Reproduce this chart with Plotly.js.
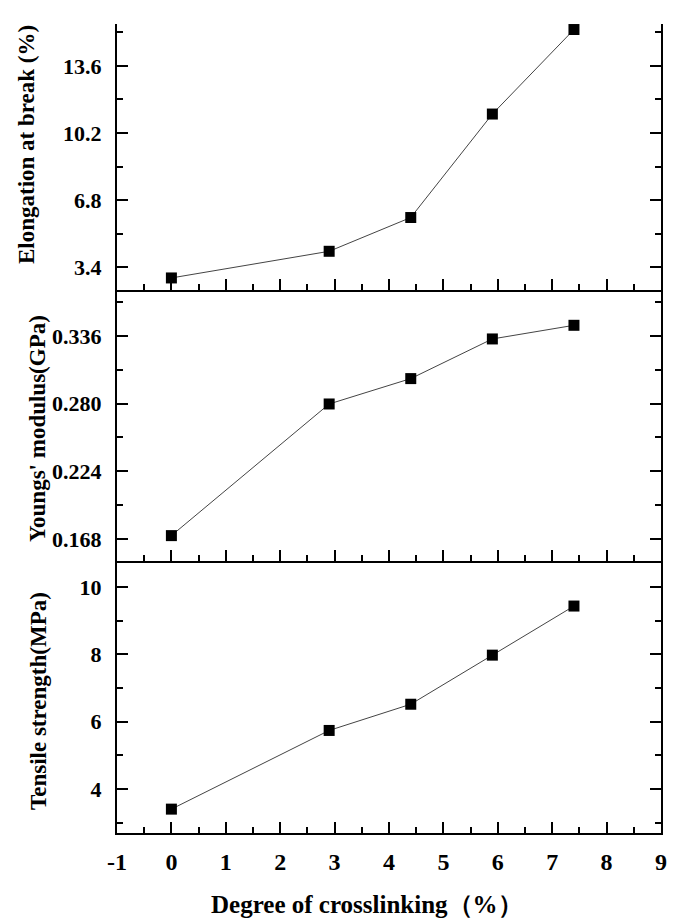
<!DOCTYPE html>
<html>
<head>
<meta charset="utf-8">
<script src="https://cdn.plot.ly/plotly-3.0.1.min.js"></script>
<style>html,body{margin:0;padding:0;background:#fff;}#chart{width:677px;height:924px;}</style>
</head>
<body>
<div id="chart"></div>
<script>
// Data
const crosslinking = [0, 2.9, 4.4, 5.9, 7.4];
const elongation = [2.86, 4.21, 5.92, 11.16, 15.44];
const youngsModulus = [0.1708, 0.2797, 0.3007, 0.3335, 0.3448];
const tensileStrength = [3.40, 5.74, 6.52, 7.98, 9.44];

const xTickVals = [-1, 0, 1, 2, 3, 4, 5, 6, 7, 8, 9];
const xTitle = 'Degree of crosslinking（%）';
const yTitles = ['Elongation at break (%)', "Youngs' modulus(GPa)", 'Tensile strength(MPa)'];

const FONT = 'Liberation Serif, Times New Roman, serif';
const W = 677, H = 924;
const M = {l: 117, r: 16, t: 24, b: 91};
const plotW = W - M.l - M.r, plotH = H - M.t - M.b;
const bottomPx = H - M.b;
const py = p => (bottomPx - p) / plotH;
const px = p => (p - M.l) / plotW;

function trace(y, xa, ya) {
  return {
    x: crosslinking, y: y, xaxis: xa, yaxis: ya,
    type: 'scatter', mode: 'lines+markers',
    line: {color: '#444', width: 1},
    marker: {symbol: 'square', size: 11, color: '#000', line: {color: '#000', width: 0}},
    cliponaxis: false, showlegend: false, hoverinfo: 'skip'
  };
}

const data = [
  trace(tensileStrength, 'x', 'y'),
  trace(youngsModulus, 'x2', 'y2'),
  trace(elongation, 'x3', 'y3')
];

function xAxis(anchor, labels) {
  return {
    anchor: anchor, range: [-1, 9], matches: anchor === 'y' ? undefined : 'x',
    tickmode: 'array', tickvals: xTickVals,
    ticktext: xTickVals.map(String),
    showticklabels: labels,
    ticks: 'inside', ticklen: 11, tickwidth: 2, tickcolor: '#000',
    minor: {dtick: 0.5, tick0: 0, ticks: 'inside', ticklen: 6, tickwidth: 2, tickcolor: '#000'},
    showline: true, linewidth: 2, linecolor: '#000', mirror: false,
    showgrid: false, zeroline: false,
    tickfont: {family: FONT, size: 24, color: '#000', weight: 'bold'},
    ticklabelstandoff: 6
  };
}
function yAxis(anchor, domain, range, tick0, dtick, minorD, fmt) {
  return {
    anchor: anchor, domain: domain, range: range,
    tick0: tick0, dtick: dtick, tickformat: fmt,
    ticks: 'inside', ticklen: 11, tickwidth: 2, tickcolor: '#000',
    minor: {dtick: minorD, tick0: tick0, ticks: 'inside', ticklen: 6, tickwidth: 2, tickcolor: '#000'},
    showline: true, linewidth: 2, linecolor: '#000', mirror: 'ticks',
    showgrid: false, zeroline: false,
    tickfont: {family: FONT, size: 22, color: '#000', weight: 'bold'},
    ticklabelstandoff: 9
  };
}

const dBottom = [0, py(561)];
const dMid = [py(561), py(290)];
const dTop = [py(290), 1];

function yTitleAnn(text, xp, yp) {
  return {text: text, xref: 'paper', yref: 'paper', x: px(xp), y: py(yp),
    xanchor: 'center', yanchor: 'middle', textangle: -90, showarrow: false,
    font: {family: FONT, size: 23, color: '#000', weight: 'bold'}};
}

const layout = {
  width: W, height: H,
  margin: M,
  paper_bgcolor: '#fff', plot_bgcolor: '#fff',
  showlegend: false,
  xaxis: xAxis('y', true),
  xaxis2: xAxis('y2', false),
  xaxis3: xAxis('y3', false),
  yaxis: yAxis('x', dBottom, [2.69, 10.78], 0, 2, 1, 'd'),
  yaxis2: yAxis('x2', dMid, [0.1498, 0.374], 0.168, 0.056, 0.028, '.3f'),
  yaxis3: yAxis('x3', dTop, [2.25, 15.72], 3.4, 3.4, 1.7, '.1f'),
  annotations: [
    yTitleAnn(yTitles[0], 26, 145),
    yTitleAnn(yTitles[1], 37, 429),
    yTitleAnn(yTitles[2], 38, 701),
    {text: xTitle, xref: 'paper', yref: 'paper', x: px(367), y: py(905),
     xanchor: 'center', yanchor: 'middle', showarrow: false,
     font: {family: FONT, size: 25, color: '#000', weight: 'bold'}}
  ]
};

Plotly.newPlot('chart', data, layout, {staticPlot: true, displayModeBar: false});
</script>
</body>
</html>
